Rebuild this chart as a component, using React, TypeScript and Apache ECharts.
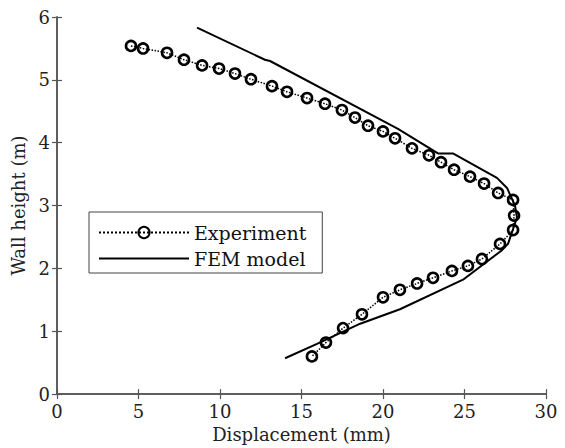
import React, { useEffect, useRef } from "react";
import * as echarts from "echarts";

const experimentX = [4.54, 5.28, 6.75, 7.79, 8.9, 9.94, 10.92, 11.9, 13.19, 14.11, 15.34, 16.44, 17.48, 18.28, 19.08, 20.0, 20.74, 21.78, 22.82, 23.56, 24.36, 25.34, 26.2, 27.06, 27.98, 28.04, 27.98, 27.18, 26.07, 25.21, 24.23, 23.07, 22.09, 21.04, 20.0, 18.71, 17.55, 16.5, 15.64];
const experimentY = [5.54, 5.5, 5.43, 5.32, 5.23, 5.18, 5.1, 5.01, 4.9, 4.81, 4.71, 4.62, 4.52, 4.4, 4.27, 4.18, 4.07, 3.91, 3.8, 3.69, 3.57, 3.46, 3.35, 3.2, 3.09, 2.84, 2.61, 2.39, 2.15, 2.04, 1.96, 1.85, 1.76, 1.66, 1.54, 1.27, 1.05, 0.82, 0.6];

const femX = [8.59, 12.76, 13.07, 20.92, 23.37, 24.29, 26.99, 27.61, 28.1, 28.22, 27.67, 27.3, 24.91, 21.04, 18.6, 15.95, 13.99];
const femY = [5.83, 5.32, 5.3, 4.22, 3.83, 3.83, 3.44, 3.28, 3.0, 2.81, 2.39, 2.29, 1.82, 1.35, 1.12, 0.8, 0.57];

const seriesNames = ["Experiment", "FEM model"];
const xAxisTitle = "Displacement (mm)";
const yAxisTitle = "Wall height (m)";

const FONT = "DejaVu Serif";

export default function App() {
  const ref = useRef<HTMLDivElement>(null);
  useEffect(() => {
    if (!ref.current) return;
    const chart = echarts.init(ref.current, undefined, { renderer: "svg" });
    const axisLine = { show: true, lineStyle: { color: "#555", width: 1.5 } };
    const axisTick = { show: true, inside: true, length: 5, lineStyle: { color: "#555", width: 1.2 } };
    const label = { color: "#222", fontFamily: FONT, fontSize: 18 };
    chart.setOption({
      animation: false,
      backgroundColor: "#fff",
      textStyle: { fontFamily: FONT },
      grid: { left: 57, right: 19, top: 17, bottom: 49 },
      legend: {
        data: [
          { name: seriesNames[0] },
          { name: seriesNames[1], itemStyle: { opacity: 0 } },
        ],
        orient: "vertical",
        left: 89,
        top: 212,
        itemWidth: 90,
        itemHeight: 14,
        itemGap: 7,
        padding: [11, 16, 5, 9],
        borderColor: "#444",
        borderWidth: 1,
        backgroundColor: "#fff",
        textStyle: { color: "#111", fontFamily: FONT, fontSize: 19 },
      },
      xAxis: [
        {
          type: "value",
          min: 0,
          max: 30,
          interval: 5,
          position: "bottom",
          name: xAxisTitle,
          nameLocation: "middle",
          nameGap: 23,
          nameTextStyle: { color: "#222", fontFamily: FONT, fontSize: 18 },
          axisLine,
          axisTick,
          axisLabel: { ...label, margin: 8 },
          splitLine: { show: false },
        },
        {
          type: "value",
          min: 0,
          max: 30,
          interval: 5,
          position: "top",
          axisLine,
          axisTick,
          axisLabel: { show: false },
          splitLine: { show: false },
        },
      ],
      yAxis: [
        {
          type: "value",
          min: 0,
          max: 6,
          interval: 1,
          position: "left",
          name: yAxisTitle,
          nameLocation: "middle",
          nameGap: 22,
          nameTextStyle: { color: "#222", fontFamily: FONT, fontSize: 18 },
          axisLine,
          axisTick,
          axisLabel: { ...label, margin: 7 },
          splitLine: { show: false },
        },
        {
          type: "value",
          min: 0,
          max: 6,
          interval: 1,
          position: "right",
          axisLine,
          axisTick,
          axisLabel: { show: false },
          splitLine: { show: false },
        },
      ],
      series: [
        {
          name: seriesNames[0],
          type: "line",
          data: experimentX.map((x, i) => [x, experimentY[i]]),
          symbol: "circle",
          symbolSize: 10,
          showAllSymbol: true,
          lineStyle: { color: "#000", width: 1.5, type: "dotted" },
          itemStyle: { color: "rgba(255,255,255,0)", borderColor: "#000", borderWidth: 2.6 },
          z: 3,
        },
        {
          name: seriesNames[1],
          type: "line",
          data: femX.map((x, i) => [x, femY[i]]),
          symbol: "none",
          lineStyle: { color: "#000", width: 2 },
          itemStyle: { color: "#000" },
          z: 2,
        },
      ],
    });
    return () => chart.dispose();
  }, []);
  return (
    <div
      ref={ref}
      style={{ position: "fixed", left: 0, top: 0, width: 565, height: 448 }}
    />
  );
}
